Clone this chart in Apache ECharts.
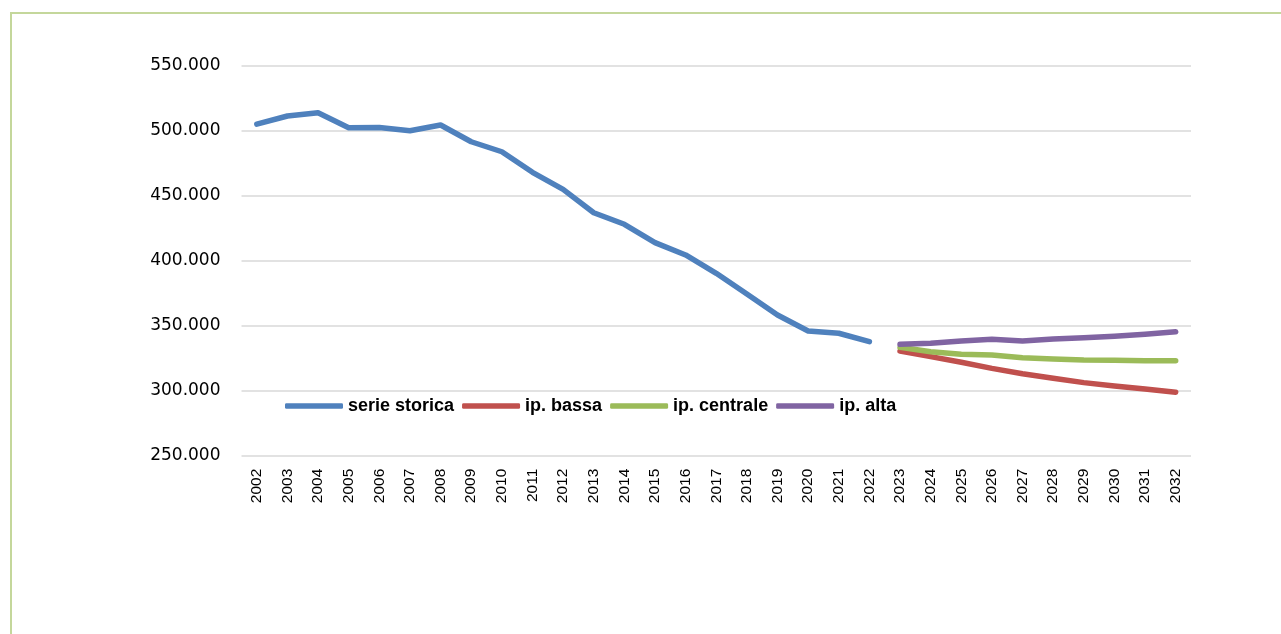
<!DOCTYPE html>
<html>
<head>
<meta charset="utf-8">
<script src="https://cdn.jsdelivr.net/npm/echarts@6/dist/echarts.min.js"></script>
<style>
	html, body { margin: 0; padding: 0; background: #fff; overflow: hidden; }
	.frame {
		position: absolute; left: 10px; top: 12px; width: 2000px; height: 2000px;
		border-left: 2px solid #c4d79b; border-top: 2px solid #c4d79b;
	}
	#chart { position: absolute; left: 0; top: 0; width: 1281px; height: 634px; }
</style>
</head>
<body>
<div class="frame"></div>
<div id="chart"></div>
<script>
	// anni 2002 - 2032
	let anni = [];
	for (let a = 2002; a <= 2032; a++) anni.push(String(a));

	// serie storica 2002 - 2022
	let serieStorica = [505000, 511300, 513800, 502300, 502400, 500000, 504400, 491500, 483800, 468000,
		454900, 436900, 428000, 413900, 404400, 390300, 374400, 358200, 345900, 344200, 337700];
	// proiezioni 2023 - 2032
	let ipBassa = [330500, 326200, 321900, 317200, 313100, 309600, 306200, 303600, 301300, 298800];
	let ipCentrale = [333400, 330000, 328000, 327500, 325400, 324400, 323600, 323400, 323100, 323100];
	let ipAlta = [335700, 336500, 338200, 339500, 338200, 339800, 340800, 341900, 343400, 345400];

	let nomi = ['serie storica', 'ip. bassa', 'ip. centrale', 'ip. alta'];
	let colori = ['#4f81bd', '#c0504d', '#9bbb59', '#8064a2'];

	// allinea le serie sulle categorie
	let vuoti = serieStorica.map(() => null);
	let dati = [
		serieStorica.concat(ipBassa.map(() => null)),
		vuoti.concat(ipBassa),
		vuoti.concat(ipCentrale),
		vuoti.concat(ipAlta)
	];

	function formatta(v) {
		let migliaia = Math.floor(v / 1000);
		let resto = String(v % 1000).padStart(3, '0');
		return migliaia + '.' + resto;
	}

	let myChart = echarts.init(document.getElementById('chart'));
	let option = {
		animation: false,
		color: colori,
		grid: {
			left: 241.5,
			right: 90,
			top: 65.7,
			height: 390,
			containLabel: false
		},
		legend: {
			left: 280,
			top: 392,
			icon: 'roundRect',
			itemWidth: 58,
			itemHeight: 5.5,
			itemGap: 8,
			data: nomi,
			textStyle: {
				fontFamily: '"Liberation Sans", Arial, sans-serif',
				fontWeight: 'bold',
				fontSize: 18,
				color: '#000'
			}
		},
		xAxis: {
			type: 'category',
			data: anni,
			boundaryGap: true,
			axisLine: { show: false },
			axisTick: { show: false },
			axisLabel: {
				rotate: 90,
				margin: 13,
				interval: 0,
				fontFamily: '"Liberation Sans", Arial, sans-serif',
				fontSize: 15.5,
				color: '#000'
			}
		},
		yAxis: {
			type: 'value',
			min: 250000,
			max: 550000,
			interval: 50000,
			axisLine: { show: false },
			axisTick: { show: false },
			splitLine: { lineStyle: { color: '#d9d9d9', width: 1.5 } },
			axisLabel: {
				margin: 21,
				formatter: formatta,
				fontFamily: 'DejaVu Sans, sans-serif',
				fontSize: 17,
				color: '#000'
			}
		},
		series: nomi.map((nome, i) => ({
			name: nome,
			type: 'line',
			data: dati[i],
			showSymbol: false,
			symbol: 'none',
			connectNulls: false,
			lineStyle: { width: 5.5, color: colori[i], cap: 'round', join: 'round' },
			itemStyle: { color: colori[i] }
		}))
	};
	myChart.setOption(option);
</script>
</body>
</html>
